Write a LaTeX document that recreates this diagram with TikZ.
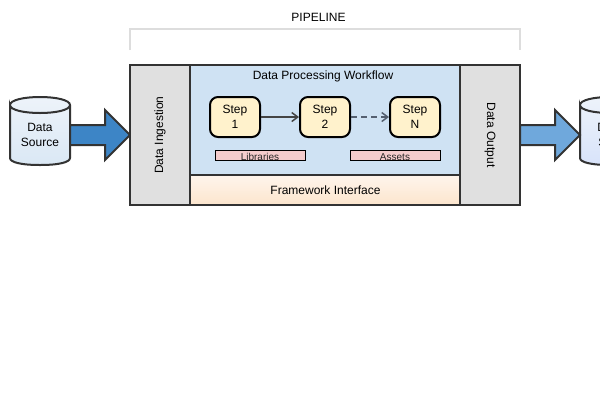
\documentclass[tikz,border=0pt]{standalone}
\usepackage{fontspec}
\setmainfont{Liberation Sans}
\usetikzlibrary{arrows.meta}
\definecolor{edge}{HTML}{333333}
\definecolor{linkc}{HTML}{444444}
\definecolor{dashc}{HTML}{556070}
\definecolor{bracketc}{HTML}{DDDDDD}
\definecolor{panelgrey}{HTML}{E0E0E0}
\definecolor{workflow}{HTML}{CFE2F3}
\definecolor{stepfill}{HTML}{FFF2CC}
\definecolor{tagfill}{HTML}{F4CCCC}
\definecolor{fwtop}{HTML}{FFF5EC}
\definecolor{fwbot}{HTML}{FCE5CD}
\definecolor{arrowdark}{HTML}{3D85C6}
\definecolor{arrowlight}{HTML}{6FA8DC}
\definecolor{cyltop}{HTML}{EDF3FA}
\definecolor{cylbotA}{HTML}{DAE8F5}
\definecolor{cylbotB}{HTML}{D8E3FA}
\tikzset{
  x=1pt,y=-1pt,
  every node/.style={font=\fontsize{12}{14.4}\selectfont,text=black,inner sep=0pt,align=center},
  panel/.style={draw=edge,line width=2pt},
  stepbox/.style={draw=black,line width=2pt,fill=stepfill,rounded corners=8pt,minimum width=50pt,minimum height=40pt},
  tagbox/.style={draw=black,line width=1pt,fill=tagfill,minimum width=90pt,minimum height=10pt},
  taglabel/.style={font=\fontsize{10}{12}\selectfont,anchor=base,text=black!85},
  flow/.style={draw=edge,line width=2pt,line join=miter},
  link/.style={line width=1.5pt,-{Straight Barb[length=6pt,width=9pt,line width=1.5pt]}},
  cyl/.style={draw=edge,line width=2pt},
}
\begin{document}
\begin{tikzpicture}
\useasboundingbox (0,0) rectangle (600,400);
\fill[white] (0,0) rectangle (600,400);
% bracket
\draw[bracketc,line width=2pt] (130,50) -- (130,29) -- (520,29) -- (520,50);
\node (pipe) at (318.5,17) {PIPELINE};
% left cylinder
\shade[top color=cyltop,bottom color=cylbotA] (10,105) .. controls (10,100) and (24,97) .. (40,97) .. controls (56,97) and (70,100) .. (70,105) -- (70,158) .. controls (70,162) and (60,165) .. (40,165) .. controls (20,165) and (10,162) .. (10,158) -- cycle;
\draw[cyl] (10,105) .. controls (10,100) and (24,97) .. (40,97) .. controls (56,97) and (70,100) .. (70,105) .. controls (70,110) and (56,113) .. (40,113) .. controls (24,113) and (10,110) .. (10,105) -- (10,158) .. controls (10,162) and (20,165) .. (40,165) .. controls (60,165) and (70,162) .. (70,158) -- (70,105);
\node (src) at (40,135) {Data\\Source};
% right cylinder
\shade[top color=cyltop,bottom color=cylbotB] (580,105) .. controls (580,100) and (594,97) .. (610,97) .. controls (626,97) and (640,100) .. (640,105) -- (640,158) .. controls (640,162) and (630,165) .. (610,165) .. controls (590,165) and (580,162) .. (580,158) -- cycle;
\draw[cyl] (580,105) .. controls (580,100) and (594,97) .. (610,97) .. controls (626,97) and (640,100) .. (640,105) .. controls (640,110) and (626,113) .. (610,113) .. controls (594,113) and (580,110) .. (580,105) -- (580,158) .. controls (580,162) and (590,165) .. (610,165) .. controls (630,165) and (640,162) .. (640,158) -- (640,105);
\node (snk) at (610,135) {Data\\Sink};
% arrows
\draw[flow,fill=arrowdark] (70,125) -- (105,125) -- (105,110) -- (130,135) -- (105,160) -- (105,145) -- (70,145) -- cycle;
\draw[flow,fill=arrowlight] (520,125) -- (555,125) -- (555,110) -- (580,135) -- (555,160) -- (555,145) -- (520,145) -- cycle;
% panels
\draw[panel,fill=workflow] (190,65) rectangle (460,175);
\shade[top color=fwtop,bottom color=fwbot] (190,175) rectangle (460,205);
\draw[panel] (190,175) rectangle (460,205);
\draw[panel,fill=panelgrey] (130,65) rectangle (190,205);
\draw[panel,fill=panelgrey] (460,65) rectangle (520,205);
\node[rotate=90] (ing) at (160,135) {Data Ingestion};
\node[rotate=-90] (out) at (490,135) {Data Output};
\node (wf) at (323,76.5) {Data Processing Workflow};
\node (fw) at (325.5,190) {Framework Interface};
% steps
\node[stepbox] (s1) at (235,117) {Step\\1};
\node[stepbox] (s2) at (325,117) {Step\\2};
\node[stepbox] (s3) at (415,117) {Step\\N};
\draw[link,draw=linkc] (s1) -- (s2);
\draw[link,draw=dashc,dash pattern=on 6pt off 4pt] (s2) -- (s3);
% tags
\node[tagbox] (lib) at (260,155) {};
\node[tagbox] (ast) at (395,155) {};
\node[taglabel] (libt) at (260,160) {Libraries};
\node[taglabel] (astt) at (395,160) {Assets};
\end{tikzpicture}
\end{document}
